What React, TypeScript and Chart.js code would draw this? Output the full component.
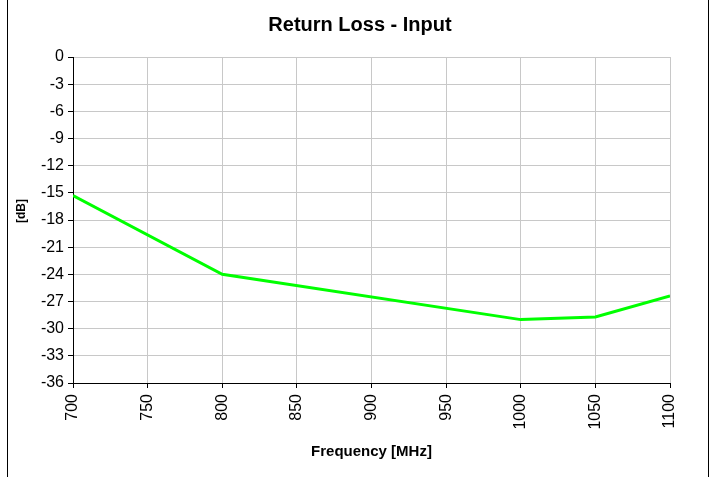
import React, { useEffect, useRef } from "react";
import { Chart, registerables } from "chart.js";

Chart.register(...registerables);

const frequencies = [700, 800, 1000, 1050, 1100];
const returnLoss = [-15.3, -24.0, -29.0, -28.7, -26.4];
const chartTitle = "Return Loss - Input";
const xTitle = "Frequency [MHz]";
const yTitle = "[dB]";

const FONT = "'Liberation Sans', Arial, sans-serif";

export default function App() {
  const ref = useRef<HTMLCanvasElement | null>(null);

  useEffect(() => {
    if (!ref.current) return;
    const framePlugin = {
      id: "framePlugin",
      afterDraw(chart: any) {
        const ctx = chart.ctx;
        ctx.save();
        ctx.strokeStyle = "#000";
        ctx.lineWidth = 1;
        ctx.beginPath();
        ctx.moveTo(7.5, 0);
        ctx.lineTo(7.5, 477);
        ctx.moveTo(708.5, 0);
        ctx.lineTo(708.5, 477);
        ctx.stroke();
        ctx.fillStyle = "#000";
        ctx.font = `bold 20px ${FONT}`;
        ctx.textAlign = "center";
        ctx.textBaseline = "middle";
        ctx.fillText(chartTitle, 360, 25);
        ctx.translate(22, 211);
        ctx.rotate(-Math.PI / 2);
        ctx.font = `bold 12px ${FONT}`;
        ctx.fillText(yTitle, 0, 0);
        ctx.restore();
      },
    };
    const chart = new Chart(ref.current, {
      type: "line",
      data: {
        datasets: [
          {
            label: chartTitle,
            data: frequencies.map((f, i) => ({ x: f, y: returnLoss[i] })),
            borderColor: "#00FF00",
            borderWidth: 3,
            pointRadius: 0,
            tension: 0,
          },
        ],
      },
      options: {
        animation: false,
        responsive: false,
        layout: { padding: { top: 57, left: 8, right: 40, bottom: 0 } },
        plugins: { legend: { display: false }, title: { display: false }, tooltip: { enabled: false } },
        scales: {
          x: {
            type: "linear",
            min: 700,
            max: 1100,
            afterFit(scale: any) {
              scale.height = 94;
            },
            ticks: {
              stepSize: 50,
              minRotation: 90,
              maxRotation: 90,
              color: "#000",
              padding: 6,
              font: { family: FONT, size: 16 },
              callback: (v: any) => String(v),
            },
            grid: { color: "#c8c8c8", tickColor: "#000", tickLength: 5, lineWidth: 1 },
            border: { color: "#000", width: 1 },
            title: {
              display: true,
              text: xTitle,
              color: "#000",
              font: { family: FONT, size: 15, weight: "bold" },
              padding: { top: 0, bottom: 16 },
            },
          },
          y: {
            type: "linear",
            min: -36,
            max: 0,
            afterFit(scale: any) {
              scale.width = 65;
            },
            ticks: {
              stepSize: 3,
              color: "#000",
              padding: 4,
              font: { family: FONT, size: 16 },
            },
            grid: { color: "#c8c8c8", tickColor: "#000", tickLength: 5, lineWidth: 1 },
            border: { color: "#000", width: 1 },
            title: { display: false },
          },
        },
      },
      plugins: [framePlugin],
    });
    return () => chart.destroy();
  }, []);

  return (
    <div style={{ position: "fixed", left: 0, top: 0, width: 710, height: 477, background: "#fff" }}>
      <canvas ref={ref} width={710} height={477} style={{ width: 710, height: 477, display: "block" }} />
    </div>
  );
}
